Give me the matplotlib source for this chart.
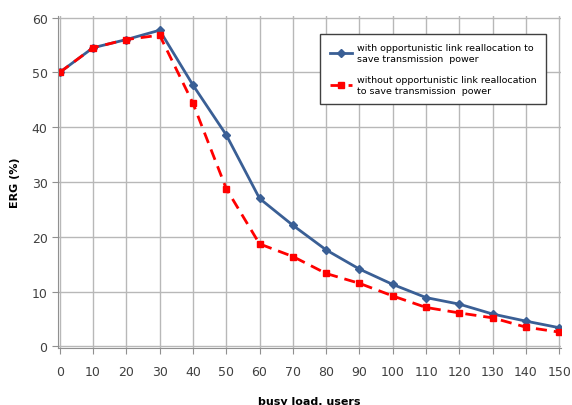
import numpy as np
import matplotlib.pyplot as plt

load = [0, 10, 20, 30, 40, 50, 60, 70, 80, 90, 100, 110, 120, 130, 140, 150]
erg_with = [50, 54.5, 56, 57.7, 47.7, 38.6, 27, 22.1, 17.6, 14.1, 11.3, 8.9, 7.7, 5.9, 4.6, 3.4]
erg_without = [50, 54.5, 56, 56.8, 44.4, 28.8, 18.7, 16.4, 13.3, 11.5, 9.2, 7.1, 6.1, 5.2, 3.5, 2.6]

fig = plt.figure(figsize=(5.72, 4.06), dpi=100)
ax = fig.add_axes([58/572, 1 - 349/406, 503/572, 332/406])

ax.plot(load, erg_with, color='#3a5f95', lw=2, marker='D', ms=4,
        label='with opportunistic link reallocation to\nsave transmission  power')
ax.plot(load, erg_without, color='#ff0000', lw=2, ls=(0, (4, 2.5)), marker='s', ms=5,
        label='without opportunistic link reallocation\nto save transmission  power')

ax.set_xticks(np.arange(0, 151, 10))
ax.set_yticks(np.arange(0, 61, 10))
ax.grid(True, color='#b8b8b8', lw=1)
ax.set_axisbelow(True)
for s in ['top', 'right']:
    ax.spines[s].set_visible(False)
for s in ['left', 'bottom']:
    ax.spines[s].set_color('#909090')
ax.tick_params(colors='#909090', labelcolor='#404040', labelsize=9, length=4)
ax.tick_params(axis='x', pad=8)
ax.set_xlim(-0.5, 150.5)
ax.set_ylim(-0.3, 60.3)

ax.set_ylabel('ERG (%)', fontsize=8, fontweight='bold', labelpad=8)
ax.set_xlabel('busy load, users', fontsize=8, fontweight='bold', labelpad=13)

leg = ax.legend(loc='upper right', bbox_to_anchor=(0.98, 0.96), fontsize=6.8,
                fancybox=False, edgecolor='#404040', framealpha=1,
                handlelength=2.4, handletextpad=0.5, labelspacing=1.3, borderpad=1.0)
leg.get_frame().set_linewidth(1)

fig.savefig('out.png', dpi=100)
